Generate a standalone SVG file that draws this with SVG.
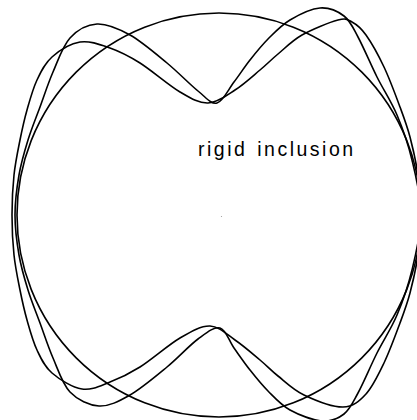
<svg xmlns="http://www.w3.org/2000/svg" width="417" height="420" viewBox="0 0 417 420">
<style>
.ln{fill:none;stroke:#000;stroke-width:1.6;stroke-linejoin:round}
.lbl{font-family:"Liberation Sans",Arial,sans-serif;font-size:19.5px;letter-spacing:2.5px;word-spacing:2px;fill:#000}
</style>
<rect width="417" height="420" fill="#fff"/>
<g id="inclusion">
<circle class="ln" cx="219" cy="215" r="202"/>
<circle cx="221.5" cy="216.5" r="0.6" fill="#999"/>
</g>
<g id="modeA">
<path class="ln" d="M15,215 C15,201.67 16.83,187.5 19,175 S24.5,151.33 28,140 S35.83,118.33 40,107 S48,83.5 53,72 S62.67,46 70,38 S87,24.5 97,24 S118.33,28.5 130,35 S155.67,53.67 167,63 S189.67,84.33 198,91 S211,104.5 217,103 S228.5,89.17 234,82 S244.33,67.17 250,60 S261.33,45.67 268,39 S281.33,25.17 290,20 S311,8.67 320,8 S337.67,11.17 344,16 S352.5,26.83 358,37 S370.5,64 377,77 S391.17,101.17 397,115 S408,143.33 412,160 S421,196.67 421,215 S416,253.33 412,270 S402.83,301.17 397,315 S383.5,340 377,353 S363.5,382.83 358,393 S350,409.33 344,414 S331,421.67 322,421 S299,415 290,410 S274.67,397.67 268,391 S255.67,377.17 250,370 S239,355 234,348 S226,329.5 220,328 S206.83,332.5 198,339 S178.33,357.67 167,367 S141.33,388.5 130,395 S109,406.5 99,406 S77.67,400 70,392 S58,369.5 53,358 S44.17,334.33 40,323 S31.5,301.33 28,290 S21.17,267.5 19,255 S15,228.33 15,215 Z"/>
</g>
<g id="modeB">
<path class="ln" d="M12,215 C12,201.67 12.67,187.5 14,175 S17.83,150.83 20,140 S24.17,120 27,110 S32.83,88.83 37,80 S44.83,63.33 52,57 S70.33,43.5 80,42 S100,44.5 110,48 S128.33,55.67 140,63 S168.67,85.33 180,92 S198.83,103.33 208,103 S226.33,95.5 235,90 S252.83,76 260,70 S271,59.83 278,54 S292,40.67 302,35 S329.67,22.17 338,20 S347.33,19.5 352,22 S360.67,27.5 366,35 S378.33,55 384,67 S395.67,95.33 400,107 S407,125.67 410,137 S416,162 418,175 S422,201.67 422,215 S420,242 418,255 S413,281.67 410,293 S404.33,311.33 400,323 S389.67,351.17 384,363 S372.83,386.67 366,394 S353.33,406.83 343,407 S314.83,400.17 304,395 S285.33,381.83 278,376 S267.17,366 260,360 S243.33,345.67 235,340 S219.17,326.33 210,326 S191.67,331.17 180,338 S151.67,359.67 140,367 S119.67,378.33 110,382 S91.67,390.5 82,389 S59.5,379.5 52,373 S41.17,358.83 37,350 S29.83,330 27,320 S22.17,300.83 20,290 S15.33,267.5 14,255 S12,228.33 12,215 Z"/>
</g>
<g id="label">
<text class="lbl" x="198" y="156">rigid inclusion</text>
</g>
</svg>
